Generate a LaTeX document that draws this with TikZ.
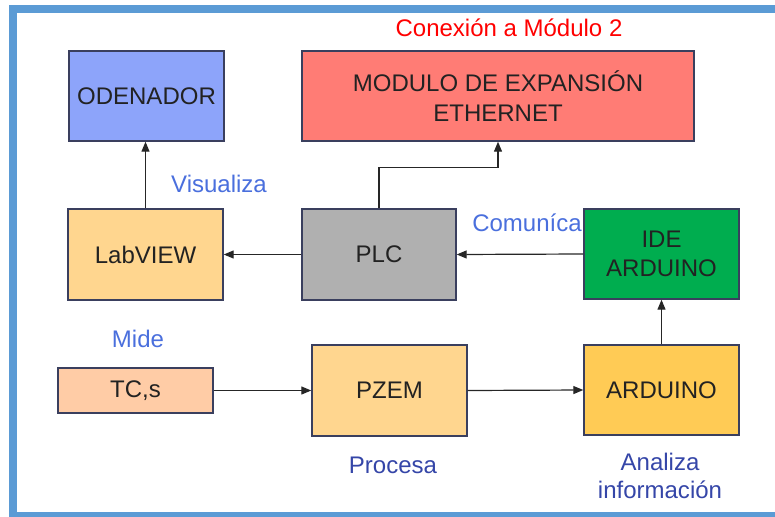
\documentclass[tikz,border=0pt]{standalone}
\usepackage{fontspec}
\setmainfont{Liberation Sans}
\usetikzlibrary{arrows.meta}
\definecolor{frameblue}{HTML}{5B9BD5}
\definecolor{boxedge}{HTML}{3A3F5E}
\definecolor{odfill}{HTML}{8DA4FA}
\definecolor{modfill}{HTML}{FF7C75}
\definecolor{lightor}{HTML}{FFD68F}
\definecolor{plcfill}{HTML}{B0B0B0}
\definecolor{idefill}{HTML}{00AD4F}
\definecolor{tcfill}{HTML}{FFCCA6}
\definecolor{ardfill}{HTML}{FFCB55}
\definecolor{lblue}{HTML}{4A6FDD}
\definecolor{dblue}{HTML}{3546A8}
\definecolor{txt}{HTML}{222222}
\begin{document}
\begin{tikzpicture}[x=1pt,y=-1pt,
  box/.style={draw=boxedge, line width=1.4pt, align=center, inner sep=0pt,
    font=\fontsize{24}{29.5}\selectfont, text=txt},
  conn/.style={line width=1.2pt, draw=black!85, -{Triangle[length=10pt,width=8pt]}},
  lbl/.style={font=\fontsize{24}{28}\selectfont, align=center, inner sep=0pt}]
\useasboundingbox (0,0) rectangle (775,516);
\begin{scope}
\clip (0,0) rectangle (775,516);
\draw[frameblue, line width=8pt] (13,9) rectangle (800,516);
\end{scope}
\node[lbl, text=red] (title) at (509,28) {Conexión a Módulo 2};
\node[box, fill=odfill, minimum width=155pt, minimum height=90pt] (od) at (146.5,96) {ODENADOR};
\node[box, fill=modfill, minimum width=392pt, minimum height=90pt] (mod) at (498,96) {MODULO DE EXPANSIÓN\\ETHERNET};
\node[box, fill=lightor, minimum width=155pt, minimum height=91pt] (lab) at (145.5,254.5) {LabVIEW};
\node[box, fill=plcfill, minimum width=154pt, minimum height=91pt] (plc) at (379,254.5) {PLC};
\node[box, fill=idefill, minimum width=155pt, minimum height=90pt] (ide) at (661.5,254) {IDE\\ARDUINO};
\node[box, fill=tcfill, minimum width=155pt, minimum height=45pt] (tc) at (135.5,390.5) {TC,s};
\node[box, fill=lightor, minimum width=155pt, minimum height=91pt] (pzem) at (389.5,390.5) {PZEM};
\node[box, fill=ardfill, minimum width=155pt, minimum height=90pt] (ard) at (661.5,390) {ARDUINO};
\node[lbl, text=lblue] (vis) at (219,184) {Visualiza};
\node[lbl, text=lblue] (com) at (527,223) {Comuníca};
\node[lbl, text=lblue] (mide) at (138,339) {Mide};
\node[lbl, text=dblue] (proc) at (393,465) {Procesa};
\node[lbl, text=dblue] (anal) at (660,476) {Analiza\\información};
\draw[conn] (lab.north) -- (lab.north |- od.south);
\draw[conn] (plc.west) -- (lab.east);
\draw[conn] (plc.north) -- ++(0,-41) -| (mod.south);
\draw[conn] (ide.west) -- (plc.east);
\draw[conn] (ard.north) -- (ide.south);
\draw[conn] (tc.east) -- (pzem.west);
\draw[conn] (pzem.east) -- (ard.west);
\end{tikzpicture}
\end{document}
